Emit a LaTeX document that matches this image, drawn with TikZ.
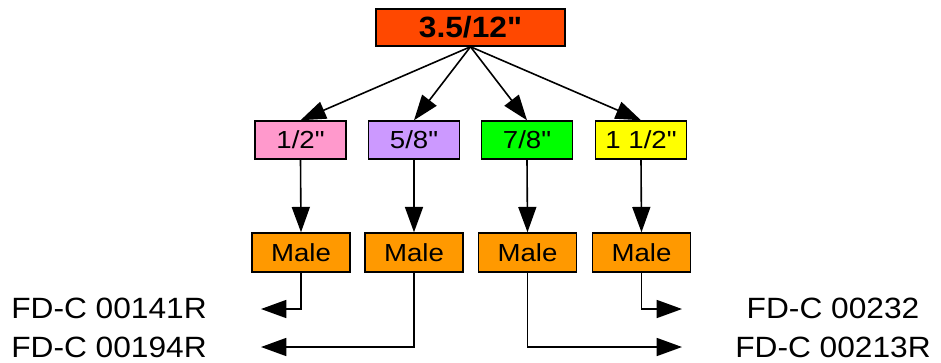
\documentclass[tikz,border=0pt]{standalone}
\usepackage{fontspec}
\setmainfont{Liberation Sans}
\newfontfamily\boxfont{Liberation Sans}[FakeStretch=1.12]
\newfontfamily\lblfont{Liberation Sans}[FakeStretch=1.08]
\usetikzlibrary{arrows.meta}
\definecolor{topred}{HTML}{FF4800}
\definecolor{pinkc}{HTML}{FF99CC}
\definecolor{lavc}{HTML}{CC99FF}
\definecolor{greenc}{HTML}{00FF00}
\definecolor{yellowc}{HTML}{FFFF00}
\definecolor{malec}{HTML}{FF9900}
\tikzset{
  box/.style={draw=black, line width=1.1pt, inner sep=0pt, font=\boxfont\fontsize{18.5}{21}\selectfont},
  sizebox/.style={box, minimum width=68.25pt, minimum height=28.5pt},
  malebox/.style={box, fill=malec, minimum width=73.5pt, minimum height=29.25pt},
  conn/.style={line width=1.2pt, -{Triangle[length=19pt,width=13.5pt]}},
  lbl/.style={inner sep=0pt, anchor=base, font=\lblfont\fontsize{22}{25}\selectfont}
}
\begin{document}
\begin{tikzpicture}[x=0.75pt,y=-0.75pt]
\useasboundingbox (0,0) rectangle (941,362);
\node[box, fill=topred, minimum width=141.75pt, minimum height=27.75pt, font=\lblfont\fontsize{22}{25}\selectfont\bfseries] (top) at (470.5,27.5) {3.5/12"};
\node[sizebox, fill=pinkc] (s1) at (300.5,140) {1/2"};
\node[sizebox, fill=lavc] (s2) at (414,140) {5/8"};
\node[sizebox, fill=greenc] (s3) at (527,140) {7/8"};
\node[sizebox, fill=yellowc] (s4) at (641,140) {1 1/2"};
\node[malebox] (m1) at (301,252.5) {Male};
\node[malebox] (m2) at (414,252.5) {Male};
\node[malebox] (m3) at (527.5,252.5) {Male};
\node[malebox] (m4) at (641.5,252.5) {Male};
\node[lbl] (l1) at (109,318) {FD-C 00141R};
\node[lbl] (l2) at (109,357) {FD-C 00194R};
\node[lbl] (r1) at (833,318) {FD-C 00232};
\node[lbl] (r2) at (833,357) {FD-C 00213R};
\coordinate (e1) at (261,309);
\coordinate (e2) at (261,347);
\coordinate (e3) at (682,347);
\coordinate (e4) at (682,309);
\foreach \i in {1,2,3,4}{
  \draw[conn] (top.south) -- (s\i.north);
  \draw[conn] (s\i.south) -- (m\i.north);
}
\draw[conn] (m1.south) |- (e1);
\draw[conn] (m2.south) |- (e2);
\draw[conn] (m3.south) |- (e3);
\draw[conn] (m4.south) |- (e4);
\end{tikzpicture}
\end{document}
